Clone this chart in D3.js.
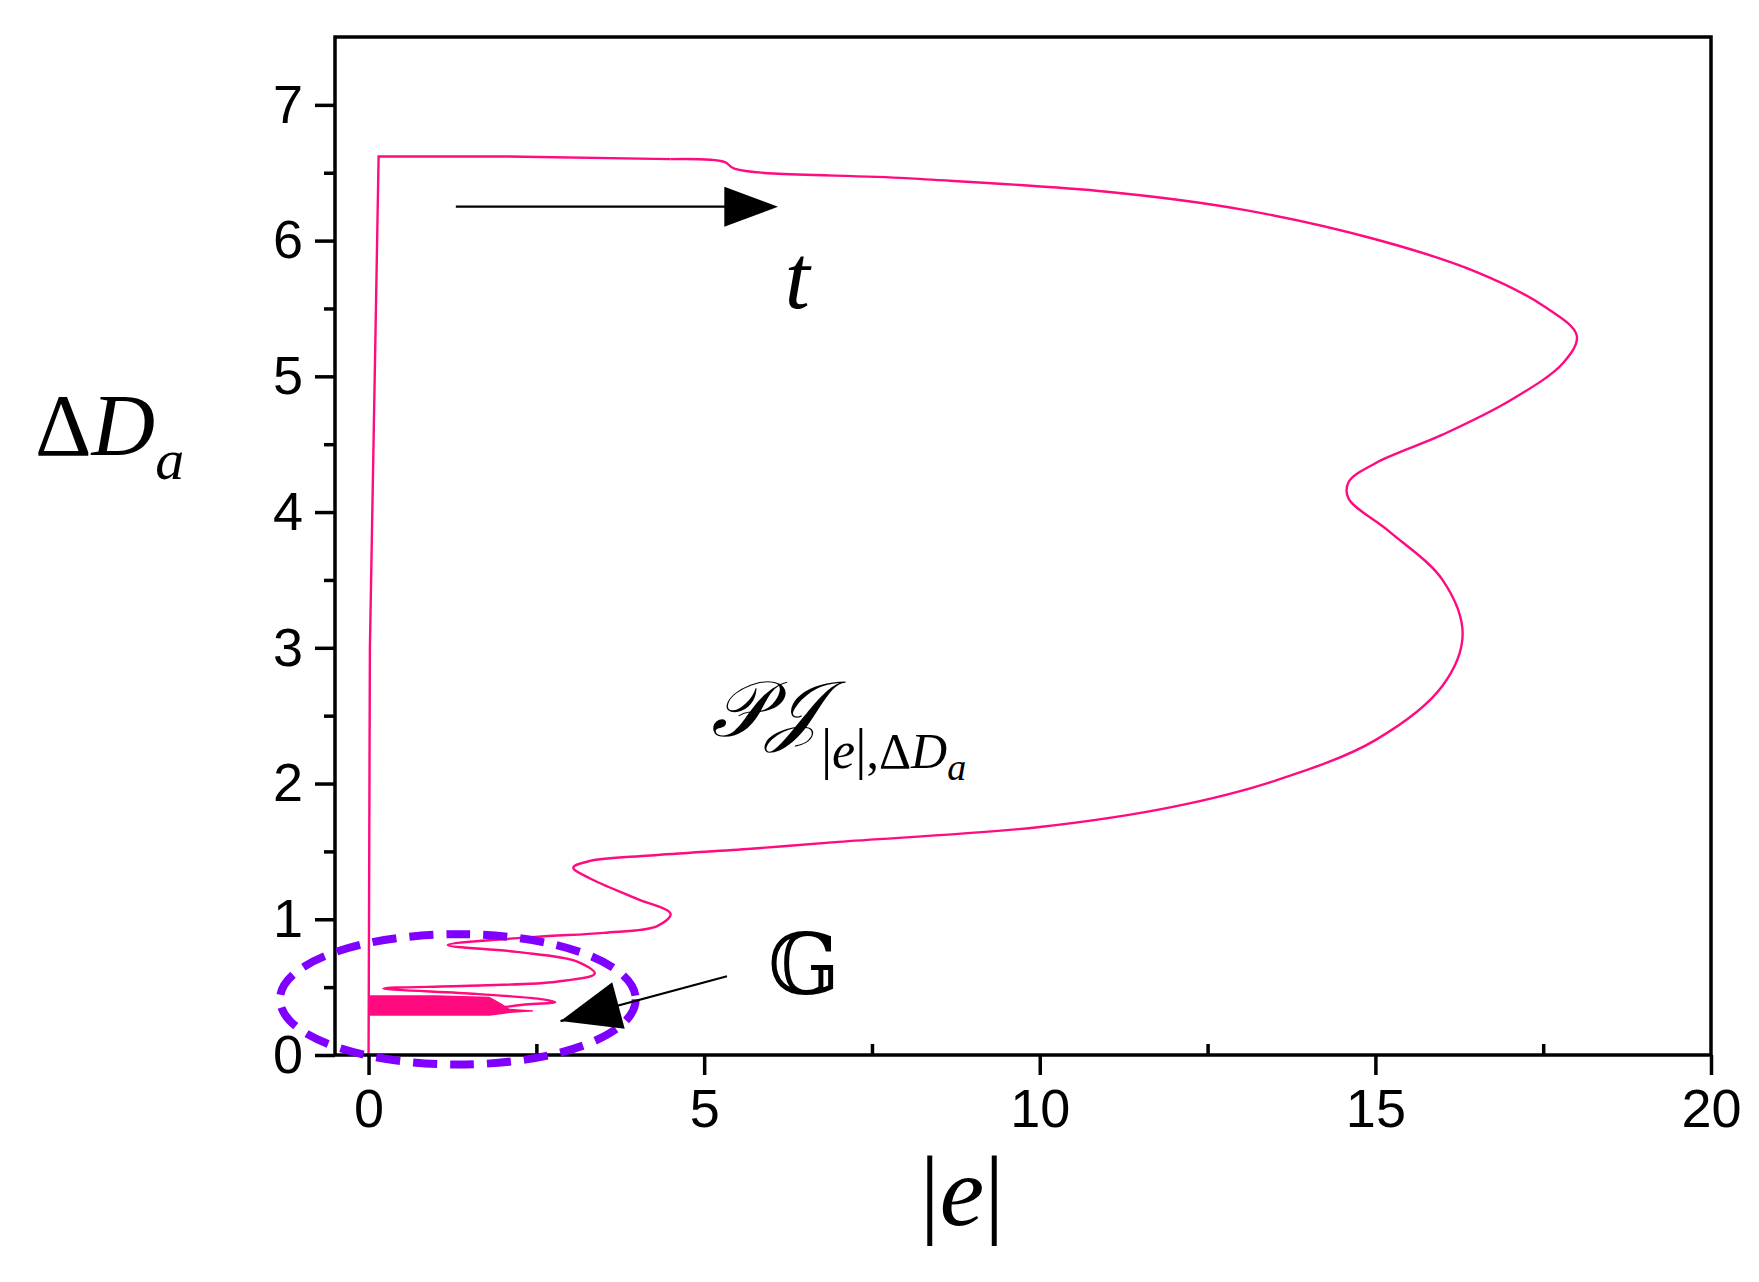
<!DOCTYPE html>
<html><head><meta charset="utf-8">
<script src="https://cdn.jsdelivr.net/npm/d3@7"></script>
<style>body{margin:0;background:#fff}</style>
</head><body>
<svg id="chart" width="1759" height="1282"></svg>
<script>
// trajectory of (|e|, ΔDa) in time order
const riseE = [0, 0.02, 0.15, 2, 4.5];
const riseDa = [0, 3, 6.62, 6.62, 6.6];
const eVals = [4.5, 5.3, 5.45, 8, 11, 13, 15, 16.5, 17.5, 18, 17.8, 17, 16, 15, 14.6, 14.6, 15.2, 16, 16.3, 16.0, 15, 13.5, 12, 10, 7, 5.7, 4.2, 3.3, 3.05, 3.3, 4, 4.5, 4.3, 3.5, 2.48, 1.18, 2.2, 3.1, 3.37, 2.8, 1.5, 0.22, 1.6, 2.6, 2.78, 2.3, 1.98];
const daVals = [6.6, 6.58, 6.53, 6.46, 6.36, 6.23, 6.01, 5.77, 5.52, 5.3, 5.1, 4.82, 4.57, 4.36, 4.22, 4.1, 3.86, 3.5, 3.1, 2.72, 2.32, 2.02, 1.83, 1.68, 1.57, 1.52, 1.47, 1.43, 1.38, 1.3, 1.15, 1.04, 0.95, 0.9, 0.87, 0.81, 0.76, 0.69, 0.6, 0.54, 0.51, 0.49, 0.45, 0.41, 0.39, 0.37, 0.35];
// dense inner spiral, drawn as a filled band
const bandE = [0, 1.0, 1.8, 1.98, 2.1, 2.45];
const bandLo = [0.29, 0.29, 0.29, 0.30, 0.31, 0.32];
const bandHi = [0.44, 0.44, 0.43, 0.38, 0.34, 0.33];
const xTicks = [0, 5, 10, 15, 20];
const yTicks = [0, 1, 2, 3, 4, 5, 6, 7];

const svg = d3.select("#chart");
const margin = { top: 37, right: 48, bottom: 227, left: 335 };
const W = 1759 - margin.left - margin.right, H = 1282 - margin.top - margin.bottom;
const x = d3.scaleLinear().domain([-0.5, 20]).range([0, W]);
const y = d3.scaleLinear().domain([0, 7.5]).range([H, 0]);
const g = svg.append("g").attr("transform", `translate(${margin.left},${margin.top})`);

const pink = "#ff0a7f";
g.append("path").datum(riseE.map((e, i) => [e, riseDa[i]]))
  .attr("d", d3.line().x(d => x(d[0])).y(d => y(d[1])))
  .attr("fill", "none").attr("stroke", pink).attr("stroke-width", 2.4);
g.append("path").datum(eVals.map((e, i) => [e, daVals[i]]))
  .attr("d", d3.line().x(d => x(d[0])).y(d => y(d[1])).curve(d3.curveCatmullRom.alpha(0.5)))
  .attr("fill", "none").attr("stroke", pink).attr("stroke-width", 2.4);
g.append("path").datum(bandE.map((e, i) => [e, bandLo[i], bandHi[i]]))
  .attr("d", d3.area().x(d => x(d[0])).y0(d => y(d[1])).y1(d => y(d[2])))
  .attr("fill", pink);

// axes
g.append("rect").attr("width", W).attr("height", H).attr("fill", "none").attr("stroke", "#000").attr("stroke-width", 3.5);
g.append("g").attr("transform", `translate(0,${H})`)
  .call(d3.axisBottom(x).tickValues(xTicks).tickSize(20).tickPadding(14).tickFormat(d3.format("d")));
g.append("g").attr("transform", `translate(0,${H})`)
  .call(d3.axisTop(x).tickValues([2.5, 7.5, 12.5, 17.5]).tickSize(11).tickFormat(""));
g.append("g")
  .call(d3.axisLeft(y).tickValues(yTicks).tickSize(20).tickPadding(12).tickFormat(d3.format("d")));
g.append("g").call(d3.axisLeft(y).tickValues(d3.range(0.5, 7.5, 1)).tickSize(11).tickFormat(""));
g.selectAll(".domain").remove();
g.selectAll(".tick line").attr("stroke-width", 3.5);
g.selectAll(".tick text").attr("font-family", "Liberation Sans, Arial, sans-serif").attr("font-size", 54).attr("fill", "#000");

// ellipse G
const cx = 1.33, cy = 0.41, rx = 2.65, ry = 0.48;
g.append("ellipse").attr("cx", x(cx)).attr("cy", y(cy))
  .attr("rx", x(cx + rx) - x(cx)).attr("ry", y(cy - ry) - y(cy))
  .attr("fill", "none").attr("stroke", "#8000ff").attr("stroke-width", 8).attr("stroke-dasharray", "24,13");

// arrows
g.append("line").attr("x1", x(1.3)).attr("y1", y(6.25)).attr("x2", x(5.6)).attr("y2", y(6.25))
  .attr("stroke", "#000").attr("stroke-width", 2.2);
g.append("path").attr("d", `M${x(5.3)},${y(6.25) - 20}L${x(6.1)},${y(6.25)}L${x(5.3)},${y(6.25) + 20}z`).attr("fill", "#000");
const ax0 = [x(5.34), y(0.58)], ax1 = [x(2.86), y(0.25)];
g.append("line").attr("x1", ax0[0]).attr("y1", ax0[1]).attr("x2", ax1[0]).attr("y2", ax1[1]).attr("stroke", "#000").attr("stroke-width", 2.2);
const ang = Math.atan2(ax0[1] - ax1[1], ax0[0] - ax1[0]), L = 60, hw = 24;
const bx = ax1[0] + L * Math.cos(ang), by = ax1[1] + L * Math.sin(ang);
g.append("path").attr("d", `M${ax1[0]},${ax1[1]}L${bx - hw * Math.sin(ang)},${by + hw * Math.cos(ang)}L${bx + hw * Math.sin(ang)},${by - hw * Math.cos(ang)}z`).attr("fill", "#000");

// labels
const serif = "Liberation Serif, Times New Roman, serif";
g.append("text").attr("x", x(6.2)).attr("y", y(5.5)).attr("font-family", serif).attr("font-style", "italic")
  .attr("font-size", 90).text("t");
g.append("text").attr("x", x(5.95)).attr("y", y(0.45)).attr("font-family", "DejaVu Serif, serif")
  .attr("font-size", 84).text("𝔾");
const pj = g.append("text").attr("x", x(5.1)).attr("y", y(2.35)).attr("font-family", "DejaVu Serif, serif")
  .attr("font-style", "italic").attr("font-size", 78);
pj.append("tspan").text("𝒫𝒥");
pj.append("tspan").attr("dy", 32).attr("font-family", serif).attr("font-style", "normal").attr("font-size", 56).text("|");
pj.append("tspan").attr("font-family", serif).attr("font-style", "italic").attr("font-size", 52).text("e");
pj.append("tspan").attr("font-family", serif).attr("font-style", "normal").attr("font-size", 56).text("|");
pj.append("tspan").attr("font-family", serif).attr("font-style", "normal").attr("font-size", 50).text(",Δ");
pj.append("tspan").attr("font-family", serif).attr("font-style", "italic").attr("font-size", 50).text("D");
pj.append("tspan").attr("dy", 12).attr("font-family", serif).attr("font-size", 38).text("a");

const yt = svg.append("text").attr("x", 35).attr("y", 455).attr("font-family", serif).attr("font-size", 88);
yt.append("tspan").text("Δ");
yt.append("tspan").attr("font-style", "italic").text("D");
yt.append("tspan").attr("font-style", "italic").attr("font-size", 58).attr("dy", 24).text("a");
const xt = svg.append("text").attr("x", 962).attr("y", 1225).attr("text-anchor", "middle").attr("font-family", serif).attr("font-size", 100);
xt.append("tspan").text("|");
xt.append("tspan").attr("font-style", "italic").text("e");
xt.append("tspan").text("|");
</script>
</body></html>
